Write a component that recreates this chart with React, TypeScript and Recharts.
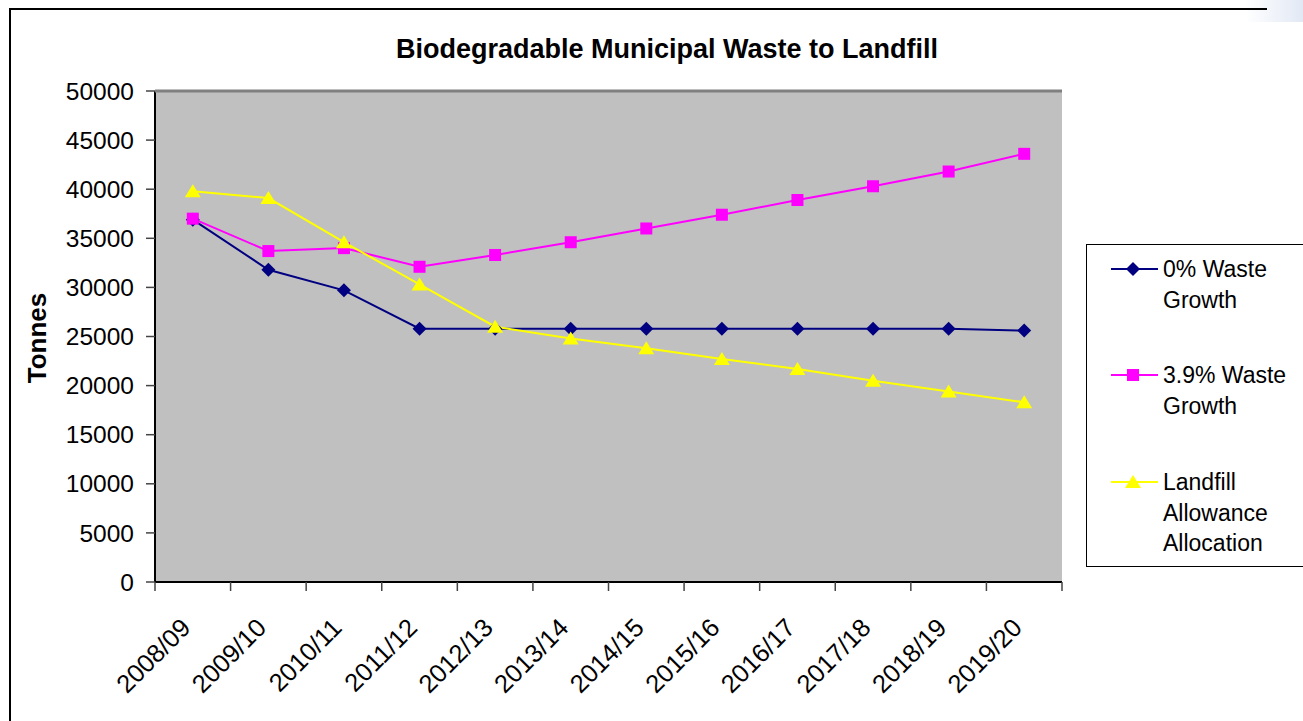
import React from 'react';
import { LineChart, Line, XAxis, YAxis, CartesianGrid } from 'recharts';

const years = [
  '2008/09', '2009/10', '2010/11', '2011/12', '2012/13', '2013/14',
  '2014/15', '2015/16', '2016/17', '2017/18', '2018/19', '2019/20',
];
const zeroGrowth = [36900, 31800, 29700, 25800, 25800, 25800, 25800, 25800, 25800, 25800, 25800, 25600];
const growth39 = [37000, 33700, 34000, 32100, 33300, 34600, 36000, 37400, 38900, 40300, 41800, 43600];
const allowance = [39800, 39100, 34600, 30300, 26000, 24800, 23800, 22700, 21700, 20500, 19400, 18300];
const yTicks = [0, 5000, 10000, 15000, 20000, 25000, 30000, 35000, 40000, 45000, 50000];

const seriesNames = ['0% Waste Growth', '3.9% Waste Growth', 'Landfill Allowance Allocation'];
const legendLines = [['0% Waste', 'Growth'], ['3.9% Waste', 'Growth'], ['Landfill', 'Allowance', 'Allocation']];

const W = 1303;
const H = 721;
const margin = { top: 91, right: 241, bottom: 9, left: 0 };
const yAxisWidth = 155;
const plotWidth = W - margin.left - margin.right - yAxisWidth;
const band = plotWidth / years.length;
const font = '"Liberation Sans", Arial, sans-serif';

const data = years.map((year, i) => ({
  year,
  zero: zeroGrowth[i],
  growth: growth39[i],
  allowance: allowance[i],
}));

const NAVY = '#000080';
const MAGENTA = '#FF00FF';
const YELLOW = '#FFFF00';

const Diamond = ({ cx, cy, fill }: any) => (
  <path d={`M${cx} ${cy - 7}L${cx + 7} ${cy}L${cx} ${cy + 7}L${cx - 7} ${cy}Z`} fill={fill} />
);
const Square = ({ cx, cy, fill }: any) => (
  <rect x={cx - 6} y={cy - 6} width={12} height={12} fill={fill} />
);
const Triangle = ({ cx, cy, fill }: any) => (
  <path d={`M${cx} ${cy - 7}L${cx + 8} ${cy + 6}L${cx - 8} ${cy + 6}Z`} fill={fill} />
);

const dotOf = (Shape: any, fill: string) => (props: any) => {
  if (props.cx == null || props.cy == null) return <g key={props.key} />;
  return <Shape key={props.key} cx={props.cx} cy={props.cy} fill={fill} />;
};

const XTick = (props: any) => {
  const { x, y, payload, index } = props;
  const left = x - band / 2;
  const ax = x - 7;
  const ay = y + 41;
  return (
    <g>
      <line x1={left} y1={y} x2={left} y2={y + 9} stroke="#444" strokeWidth={1.5} />
      {index === years.length - 1 && (
        <line x1={x + band / 2} y1={y} x2={x + band / 2} y2={y + 9} stroke="#444" strokeWidth={1.5} />
      )}
      <text
        x={ax}
        y={ay}
        dy="0.35em"
        textAnchor="end"
        transform={`rotate(-45 ${ax} ${ay})`}
        fontSize={25.5}
        fontFamily={font}
        fill="#000"
      >
        {payload.value}
      </text>
    </g>
  );
};

const legendMarkers = [Diamond, Square, Triangle];
const legendColors = [NAVY, MAGENTA, YELLOW];
const legendY = [269, 375, 482];

export default function App() {
  return (
    <div style={{ position: 'absolute', left: 0, top: 0, width: W, height: H, background: '#fff', overflow: 'hidden' }}>
      <div
        style={{
          position: 'absolute',
          left: 1245,
          top: 0,
          width: 60,
          height: 22,
          background: 'linear-gradient(to right, rgba(225,232,244,0), #e1e8f4)',
        }}
      />
      <div
        style={{
          position: 'absolute',
          left: 9,
          top: 8,
          width: 1256,
          height: 800,
          borderTop: '2px solid #000',
          borderLeft: '2px solid #000',
        }}
      />
      <div style={{ position: 'absolute', left: 0, top: 0 }}>
        <LineChart width={W} height={H} data={data} margin={margin}>
          <CartesianGrid vertical={false} fill="#C0C0C0" stroke="#404040" strokeWidth={1.5} />
          <XAxis
            dataKey="year"
            padding={{ left: band / 2, right: band / 2 }}
            height={H - margin.top - margin.bottom - 491}
            tickLine={false}
            tickSize={0}
            tickMargin={0}
            interval={0}
            axisLine={{ stroke: '#000', strokeWidth: 2 }}
            tick={<XTick />}
          />
          <YAxis
            yAxisId="left"
            width={yAxisWidth}
            domain={[0, 50000]}
            ticks={yTicks}
            interval={0}
            tickSize={9}
            tickMargin={12}
            axisLine={{ stroke: '#000', strokeWidth: 2 }}
            tickLine={{ stroke: '#444', strokeWidth: 1.5 }}
            tick={{ fill: '#000', fontSize: 24.5, fontFamily: font }}
          />
          <YAxis
            yAxisId="right"
            orientation="right"
            width={0}
            domain={[0, 50000]}
            tick={false}
            tickLine={false}
            axisLine={{ stroke: '#808080', strokeWidth: 3 }}
          />
          <Line
            yAxisId="left"
            name={seriesNames[0]}
            dataKey="zero"
            stroke={NAVY}
            strokeWidth={2}
            dot={dotOf(Diamond, NAVY)}
            isAnimationActive={false}
          />
          <Line
            yAxisId="left"
            name={seriesNames[1]}
            dataKey="growth"
            stroke={MAGENTA}
            strokeWidth={2}
            dot={dotOf(Square, MAGENTA)}
            isAnimationActive={false}
          />
          <Line
            yAxisId="left"
            name={seriesNames[2]}
            dataKey="allowance"
            stroke={YELLOW}
            strokeWidth={2}
            dot={dotOf(Triangle, YELLOW)}
            isAnimationActive={false}
          />
        </LineChart>
      </div>
      <svg width={W} height={H} style={{ position: 'absolute', left: 0, top: 0, pointerEvents: 'none' }}>
        {/* top border of plot area */}
        <line x1={yAxisWidth} y1={margin.top} x2={yAxisWidth + plotWidth} y2={margin.top} stroke="#808080" strokeWidth={3} />
        <text x={667} y={58} textAnchor="middle" fontSize={27} fontWeight="bold" fontFamily={font} fill="#000">
          Biodegradable Municipal Waste to Landfill
        </text>
        <text
          transform="translate(46,338) rotate(-90)"
          textAnchor="middle"
          fontSize={26}
          fontWeight="bold"
          fontFamily={font}
          fill="#000"
        >
          Tonnes
        </text>
        <rect x={1086.5} y={244.5} width={240} height={322} fill="#fff" stroke="#000" strokeWidth={1} />
        {legendLines.map((lines, i) => {
          const Marker = legendMarkers[i];
          const cy = legendY[i];
          return (
            <g key={i}>
              <line x1={1111} y1={cy} x2={1158} y2={cy} stroke={legendColors[i]} strokeWidth={2} />
              <Marker cx={1133} cy={cy} fill={legendColors[i]} />
              {lines.map((t, j) => (
                <text key={j} x={1163} y={cy + 8 + j * 30.5} fontSize={23} fontFamily={font} fill="#000">
                  {t}
                </text>
              ))}
            </g>
          );
        })}
      </svg>
    </div>
  );
}
